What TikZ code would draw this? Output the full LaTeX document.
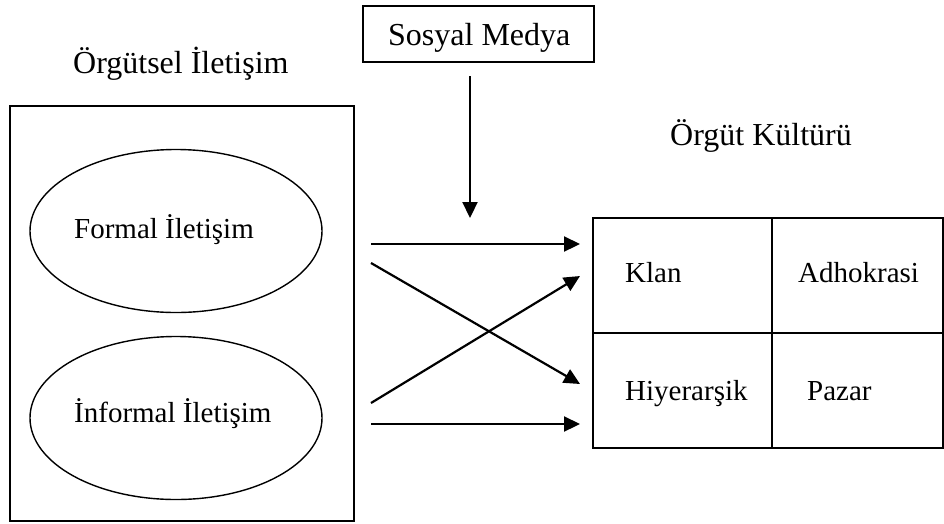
\documentclass[tikz,border=0pt]{standalone}
\usepackage{fontspec}
\setmainfont{Liberation Serif}
\usetikzlibrary{shapes.geometric,arrows.meta}
\begin{document}
\begin{tikzpicture}[x=1pt,y=-1pt,
  every node/.style={font=\fontsize{29}{34}\selectfont, inner sep=0pt},
  big/.style={font=\fontsize{32}{38}\selectfont},
  frame/.style={draw, line width=1.6pt},
  oval/.style={draw, ellipse, line width=1.4pt, minimum width=292pt, minimum height=163pt},
  cell/.style={draw, line width=1.3pt},
  link/.style={line width=2.2pt, -{Triangle[length=16pt,width=15pt]}},
  lbl/.style={anchor=base west}]
  \useasboundingbox (0,0) rectangle (944,523);

  % left block: organisational communication
  \node[frame, minimum width=344pt, minimum height=415pt] (org) at (182,313.5) {};
  \node[lbl, big] (orgT) at (73,73) {Örgütsel İletişim};
  \node[oval] (formal) at (176,231) {};
  \node[lbl] (formalT) at (74,238) {Formal İletişim};
  \node[oval] (informal) at (176,418) {};
  \node[lbl] (informalT) at (74,422) {İnformal İletişim};

  % social media box
  \node[frame, minimum width=231pt, minimum height=56pt] (sm) at (478.5,34) {};
  \node[lbl, big] (smT) at (388,45) {Sosyal Medya};
  \coordinate (vtop) at (470,76);
  \coordinate (vbot) at (470,218);
  \draw[link] (vtop) -- (vbot);

  % right block: organisational culture
  \node[lbl, big] (culT) at (670,145) {Örgüt Kültürü};
  \node[cell, minimum width=179pt, minimum height=115pt] (c11) at (682.5,275.5) {};
  \node[cell, minimum width=171pt, minimum height=115pt] (c12) at (857.5,275.5) {};
  \node[cell, minimum width=179pt, minimum height=115pt] (c21) at (682.5,390.5) {};
  \node[cell, minimum width=171pt, minimum height=115pt] (c22) at (857.5,390.5) {};
  \node[lbl] (klan) at (625,282) {Klan};
  \node[lbl] (adho) at (798,282) {Adhokrasi};
  \node[lbl] (hiy) at (625,400) {Hiyerarşik};
  \node[lbl] (pazar) at (807,400) {Pazar};

  % links between the two blocks
  \coordinate (a1) at (371,244);
  \coordinate (a2) at (371,263);
  \coordinate (a3) at (371,403);
  \coordinate (a4) at (371,424);
  \coordinate (b1) at (580,244);
  \coordinate (b2) at (580,384);
  \coordinate (b3) at (580,276);
  \coordinate (b4) at (580,424);
  \draw[link] (a1) -- (b1);
  \draw[link] (a2) -- (b2);
  \draw[link] (a3) -- (b3);
  \draw[link] (a4) -- (b4);
\end{tikzpicture}
\end{document}
